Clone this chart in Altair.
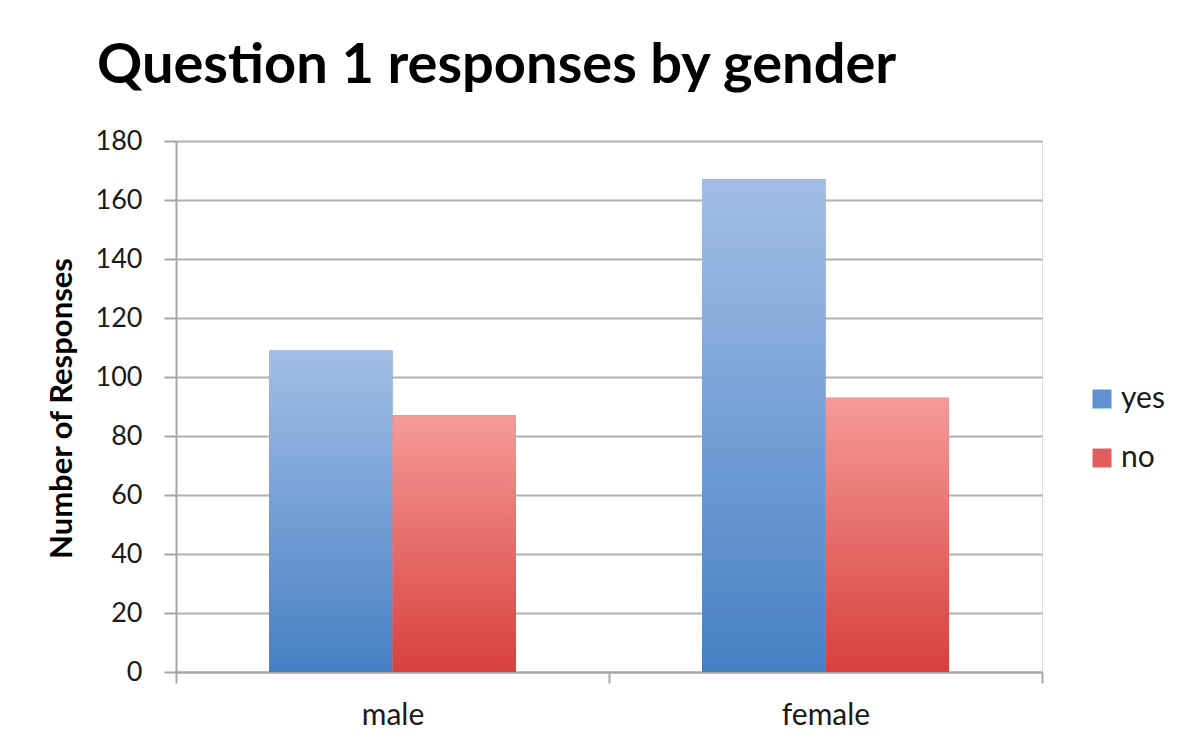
import altair as alt
import pandas as pd

genders = ["male", "female"]
responses = ["yes", "no"]
yes_values = [109, 167]
no_values = [87, 93]

rows = []
for g, y, n in zip(genders, yes_values, no_values):
    rows.append({"gender": g, "response": "yes", "count": y})
    rows.append({"gender": g, "response": "no", "count": n})
df = pd.DataFrame(rows)

FONT = "Lato"

x_enc = alt.X(
    "gender:N",
    sort=genders,
    title=None,
    scale=alt.Scale(paddingInner=0, paddingOuter=0),
    axis=alt.Axis(
        labelAngle=0, labelFontSize=30, labelFont=FONT, labelColor="#1a1a1a",
        labelPadding=17, tickBand="extent", tickSize=11, tickColor="#a6a6a6",
        tickWidth=2, domainColor="#a6a6a6", domainWidth=2, grid=False,
    ),
)
xo_enc = alt.XOffset("response:N", sort=responses,
                     scale=alt.Scale(domain=responses, paddingInner=0, paddingOuter=0.753))
y_enc = alt.Y(
    "count:Q",
    scale=alt.Scale(domain=[0, 180]),
    axis=alt.Axis(
        values=list(range(0, 181, 20)), title="Number of Responses",
        titleFont=FONT, titleFontSize=31, titleFontWeight="bold", titleColor="#000000",
        titleAngle=-90, titleX=-105, titleY=267, titleAlign="center",
        titleBaseline="alphabetic",
        labelFontSize=27, labelFont=FONT, labelColor="#1a1a1a", labelPadding=22,
        tickSize=12, tickColor="#a6a6a6", tickWidth=2,
        domainColor="#a6a6a6", domainWidth=2,
        grid=True, gridColor="#b0b0b0", gridWidth=2,
    ),
)

base = alt.Chart(df)

solid = base.mark_bar().encode(
    x=x_enc, xOffset=xo_enc, y=y_enc,
    color=alt.Color(
        "response:N", sort=responses,
        scale=alt.Scale(domain=responses, range=["#5f92d2", "#e25e5c"]),
        legend=alt.Legend(
            title=None, orient="none", legendX=911, legendY=243,
            symbolType="square", symbolSize=361, symbolStrokeWidth=0,
            labelFont=FONT, labelFontSize=30, labelColor="#1a1a1a",
            labelOffset=4, rowPadding=29,
        ),
    ),
)

def grad(top, bottom):
    return alt.Gradient(
        gradient="linear",
        stops=[alt.GradientStop(color=top, offset=0),
               alt.GradientStop(color=bottom, offset=1)],
        x1=0, x2=0, y1=0, y2=1,
    )

yes_bars = base.transform_filter(alt.datum.response == "yes").mark_bar(
    color=grad("#a3bee6", "#4680c4")
).encode(x=x_enc, xOffset=xo_enc, y=y_enc)

no_bars = base.transform_filter(alt.datum.response == "no").mark_bar(
    color=grad("#f59a98", "#d8403d")
).encode(x=x_enc, xOffset=xo_enc, y=y_enc)

chart = alt.layer(solid, yes_bars, no_bars).properties(
    width=866,
    height=531,
    title=alt.TitleParams(
        "Question 1 responses by gender", anchor="start", frame="group",
        font=FONT, fontSize=56, fontWeight="bold", color="#000000",
        dx=-79, dy=42, offset=30, baseline="alphabetic",
    ),
    autosize=alt.AutoSizeParams(type="none"),
    padding={"left": 168, "top": 133, "right": 140, "bottom": 70},
).configure_view(stroke="transparent", strokeWidth=0).configure(background="#ffffff")

chart.save("out.html", embed_options={"renderer": "svg", "actions": False})
